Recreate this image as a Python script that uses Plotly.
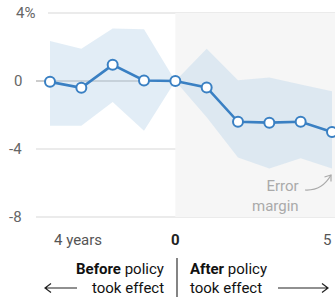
import plotly.graph_objects as go

# ---- data ----
years = [-4, -3, -2, -1, 0, 1, 2, 3, 4, 5]
effect = [-0.05, -0.4, 0.95, 0.03, 0.0, -0.38, -2.4, -2.45, -2.4, -3.0]
upper = [2.35, 1.89, 3.09, 3.04, 0.0, 1.9, 0.05, 0.2, -0.2, -0.6]
lower = [-2.63, -2.63, -1.23, -2.93, 0.0, -2.13, -4.5, -5.15, -4.55, -5.15]
y_ticks = [4, 0, -4, -8]
y_tick_labels = ["4%", "0", "-4", "-8"]
x_ticks = [-4, 0, 5]
x_tick_labels = ["4 years", "<b>0</b>", "5"]

W, H = 335, 297
FONT = "Roboto, Liberation Sans, Arial, sans-serif"
BLUE = "#3a80c3"


def X(px):
    return px / W


def Y(py):
    return 1 - py / H


fig = go.Figure()

# error band
fig.add_trace(go.Scatter(
    x=years + years[::-1], y=upper + lower[::-1],
    fill="toself", fillcolor="rgba(190,215,235,0.45)",
    line=dict(width=0), mode="lines", hoverinfo="skip", showlegend=False))

# main line
fig.add_trace(go.Scatter(
    x=years, y=effect, mode="lines+markers",
    line=dict(color=BLUE, width=2.6),
    marker=dict(size=10, color="white", line=dict(color=BLUE, width=2)),
    showlegend=False))

shapes = []
# shaded "after" region
shapes.append(dict(type="rect", xref="x", yref="y", x0=0, x1=5.2, y0=-8, y1=4,
                   fillcolor="#f6f6f6", line=dict(width=0), layer="below"))
# gridlines
for v, lab in zip(y_ticks, y_tick_labels):
    if v == 0:
        continue
    start = 48 if "%" in lab else 36
    shapes.append(dict(type="line", xref="paper", yref="y", x0=X(start), x1=1,
                       y0=v, y1=v, line=dict(color="#e4e4e4", width=1.3), layer="below"))
# zero line
shapes.append(dict(type="line", xref="paper", yref="y", x0=X(36), x1=X(332),
                   y0=0, y1=0, line=dict(color="#9a9a9a", width=1.2), layer="below"))

# bottom divider and arrows
dark = "#222222"
shapes.append(dict(type="line", xref="paper", yref="paper", x0=X(177), x1=X(177),
                   y0=Y(258), y1=Y(297), line=dict(color="#333", width=1.2)))
shapes.append(dict(type="path", xref="paper", yref="paper",
                   path=f"M {X(77)} {Y(288)} L {X(45)} {Y(288)} M {X(51)} {Y(283.5)} L {X(45)} {Y(288)} L {X(51)} {Y(292.5)}",
                   line=dict(color=dark, width=1.2)))
shapes.append(dict(type="path", xref="paper", yref="paper",
                   path=f"M {X(278)} {Y(288)} L {X(328)} {Y(288)} M {X(322)} {Y(283.5)} L {X(328)} {Y(288)} L {X(322)} {Y(292.5)}",
                   line=dict(color=dark, width=1.2)))
# error margin curved arrow
shapes.append(dict(type="path", xref="paper", yref="paper",
                   path=f"M {X(305)} {Y(190)} Q {X(322)} {Y(191)} {X(331)} {Y(175)}",
                   line=dict(color="#aaaaaa", width=1.2)))
shapes.append(dict(type="path", xref="paper", yref="paper",
                   path=f"M {X(324.5)} {Y(177)} L {X(331)} {Y(175)} L {X(331)} {Y(181.5)}",
                   line=dict(color="#aaaaaa", width=1.2)))

ann = []
for v, lab in zip(y_ticks, y_tick_labels):
    if "%" in lab:
        ann.append(dict(xref="paper", yref="y", x=X(14), y=v, text=lab, xanchor="left",
                        yanchor="middle", showarrow=False, font=dict(size=15, color="#666")))
    else:
        ann.append(dict(xref="paper", yref="y", x=X(24), y=v, text=lab, xanchor="right",
                        yanchor="middle", showarrow=False, font=dict(size=15, color="#666")))

anchors = {"4 years": "left", "<b>0</b>": "center", "5": "right"}
xpos = {"4 years": X(52), "<b>0</b>": None, "5": X(333)}
for v, lab in zip(x_ticks, x_tick_labels):
    if xpos[lab] is None:
        ann.append(dict(xref="x", yref="paper", x=v, y=Y(240), text=lab, xanchor="center",
                        yanchor="middle", showarrow=False, font=dict(size=15, color="#222")))
    else:
        ann.append(dict(xref="paper", yref="paper", x=xpos[lab], y=Y(240), text=lab,
                        xanchor=anchors[lab], yanchor="middle", showarrow=False,
                        font=dict(size=15, color="#555")))

ann += [
    dict(xref="paper", yref="paper", x=X(166), y=Y(269), text="<b>Before</b> policy",
         xanchor="right", yanchor="middle", showarrow=False, font=dict(size=15, color="#111")),
    dict(xref="paper", yref="paper", x=X(166), y=Y(288), text="took effect",
         xanchor="right", yanchor="middle", showarrow=False, font=dict(size=15, color="#111")),
    dict(xref="paper", yref="paper", x=X(188), y=Y(269), text="<b>After</b> policy",
         xanchor="left", yanchor="middle", showarrow=False, font=dict(size=15, color="#111")),
    dict(xref="paper", yref="paper", x=X(188), y=Y(288), text="took effect",
         xanchor="left", yanchor="middle", showarrow=False, font=dict(size=15, color="#111")),
    dict(xref="paper", yref="paper", x=X(301), y=Y(196), text="Error<br>margin",
         xanchor="right", yanchor="middle", align="right", showarrow=False,
         font=dict(size=15, color="#aaaaaa")),
]

fig.update_layout(
    width=W, height=H, margin=dict(l=0, r=0, t=0, b=0),
    paper_bgcolor="white", plot_bgcolor="white",
    font=dict(family=FONT),
    xaxis=dict(range=[-4 - 50 / 31.333, 5 + 3 / 31.333], visible=False, fixedrange=True),
    yaxis=dict(range=[-(H - 81) / 17, 81 / 17], visible=False, fixedrange=True),
    shapes=shapes, annotations=ann,
)

fig.write_html("out.html", config={"displayModeBar": False, "staticPlot": True},
               post_script="document.body.style.margin='0';")
